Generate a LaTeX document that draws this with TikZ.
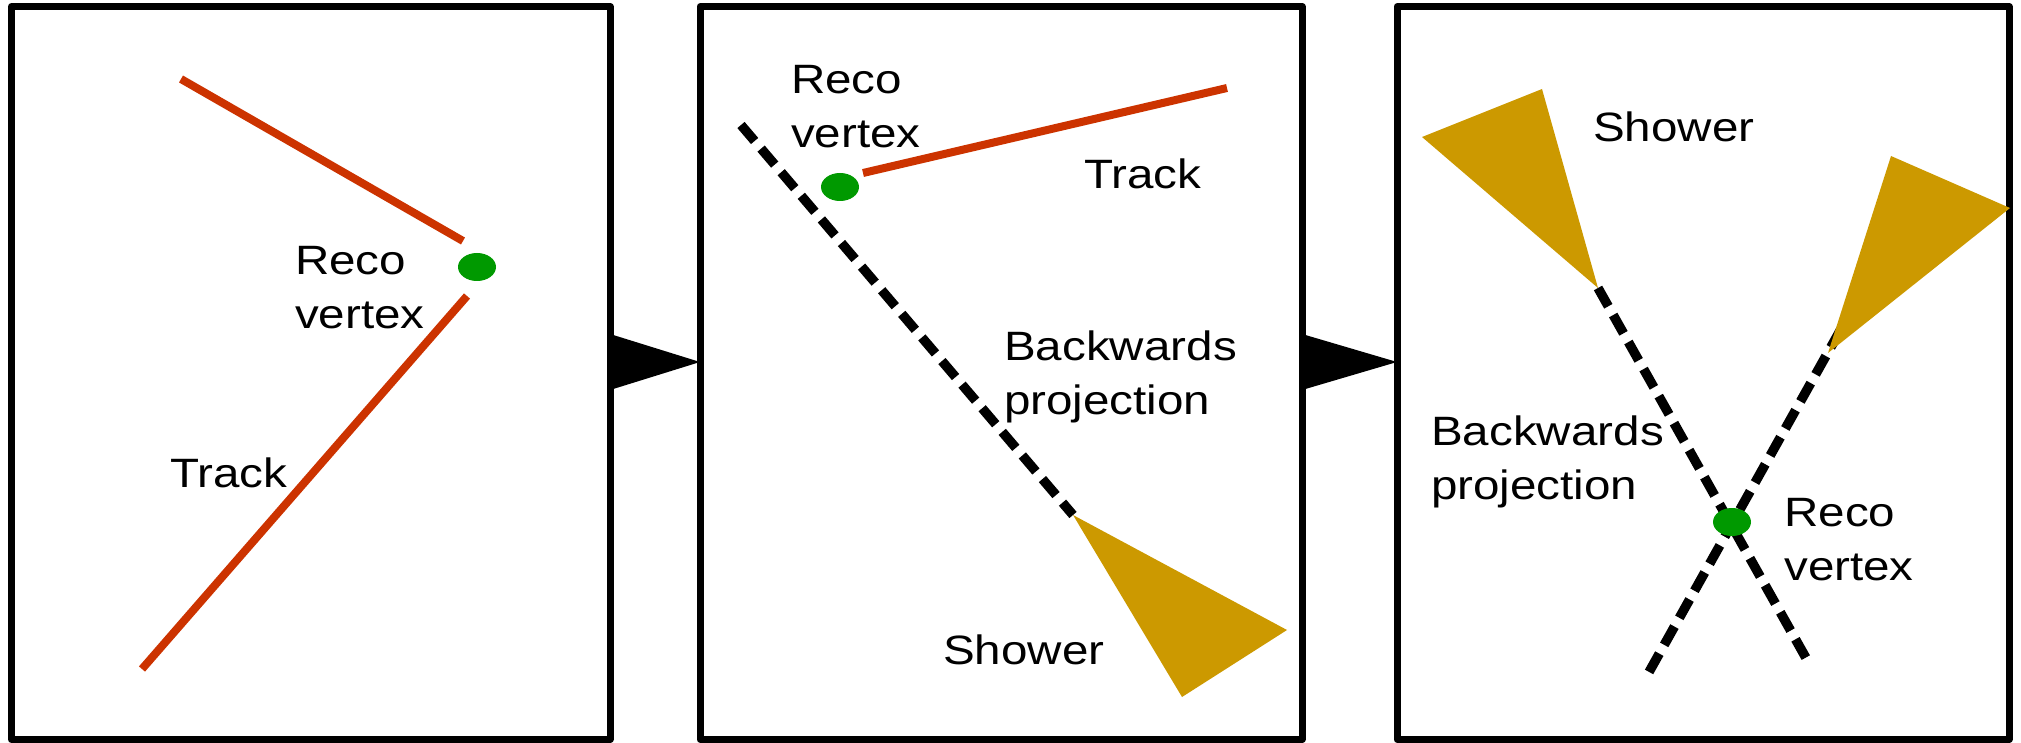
\documentclass[tikz,border=0pt]{standalone}
\usepackage{fontspec}
\setmainfont{Liberation Sans}[FakeStretch=1.16]
\usetikzlibrary{calc,shapes.geometric}
\definecolor{trackred}{RGB}{204,51,0}
\definecolor{vtxgreen}{RGB}{0,153,0}
\definecolor{showergold}{RGB}{204,153,0}

\begin{document}
\begin{tikzpicture}[x=1pt,y=-1pt,
  panel/.style={draw=black,line width=7pt,line join=round,minimum height=733pt,inner sep=0pt,outer sep=0pt},
  track/.style={draw=trackred,line width=8pt},
  proj/.style={draw=black,line width=9.5pt,dash pattern=on 21pt off 10pt},
  shower/.style={fill=showergold},
  vtx/.style={ellipse,fill=vtxgreen,minimum width=38pt,minimum height=28pt,inner sep=0pt},
  lbl/.style={anchor=base west,inner sep=0pt,align=left,font=\fontsize{41}{54}\selectfont},
  flow/.style={fill=black}]
\useasboundingbox (0,0) rectangle (2021,743);

% the three stages
\node[panel,minimum width=598.5pt] (p1) at (310.75,373) {};
\node[panel,minimum width=602pt]   (p2) at (1001,373) {};
\node[panel,minimum width=612pt]   (p3) at (1703,373) {};

% arrows between the stages
\coordinate (a1s) at ($(p1.east)+(0,-11)$);
\coordinate (a1t) at ($(p2.west)+(0,-11)$);
\coordinate (a2s) at ($(p2.east)+(0,-11)$);
\coordinate (a2t) at ($(p3.west)+(0,-11)$);
\fill[flow] ($(a1s)+(0,-28)$) -- (a1t) -- ($(a1s)+(0,28)$) -- cycle;
\fill[flow] ($(a2s)+(0,-28)$) -- (a2t) -- ($(a2s)+(0,28)$) -- cycle;

% stage 1: two tracks meeting at the vertex
\node[vtx] (v1) at (477,267) {};
\coordinate (t1a) at (181,79);  \coordinate (t1b) at (463,241);
\coordinate (t2a) at (467,296); \coordinate (t2b) at (142,669);
\draw[track] (t1a) -- (t1b);
\draw[track] (t2a) -- (t2b);
\node[lbl] (l1v) at (295,328) {Reco\\vertex};
\node[lbl] (l1t) at (170,487) {Track};

% stage 2: track plus shower projected backwards
\coordinate (d2a) at (741,125); \coordinate (s2) at (1073,515);
\draw[proj] (d2a) -- (s2);
\coordinate (t3a) at (863,173); \coordinate (t3b) at (1227,88);
\draw[track] (t3a) -- (t3b);
\fill[shower] (s2) -- (1287,630) -- (1182,697) -- cycle;
\node[vtx] (v2) at (840,187) {};
\node[lbl] (l2v) at (791,148) {Reco\\vertex};
\node[lbl] (l2t) at (1084,189) {Track};
\node[lbl] (l2b) at (1004,414) {Backwards\\projection};
\node[lbl] (l2s) at (943,664) {Shower};

% stage 3: two showers projected backwards
\coordinate (s3a) at (1598,288); \coordinate (e3a) at (1806,658);
\coordinate (s3b) at (1828,353); \coordinate (b3b) at (1841,329); \coordinate (e3b) at (1649,672);
\draw[proj] (s3a) -- (e3a);
\draw[proj] (b3b) -- (e3b);
\fill[shower] (1422,137) -- (1542,89) -- (s3a) -- cycle;
\fill[shower] (1891,156) -- (2010,208) -- (s3b) -- cycle;
\node[vtx] (v3) at (1732,522) {};
\node[lbl] (l3s) at (1593,142) {Shower};
\node[lbl] (l3b) at (1431,499) {Backwards\\projection};
\node[lbl] (l3v) at (1784,580) {Reco\\vertex};
\end{tikzpicture}
\end{document}
